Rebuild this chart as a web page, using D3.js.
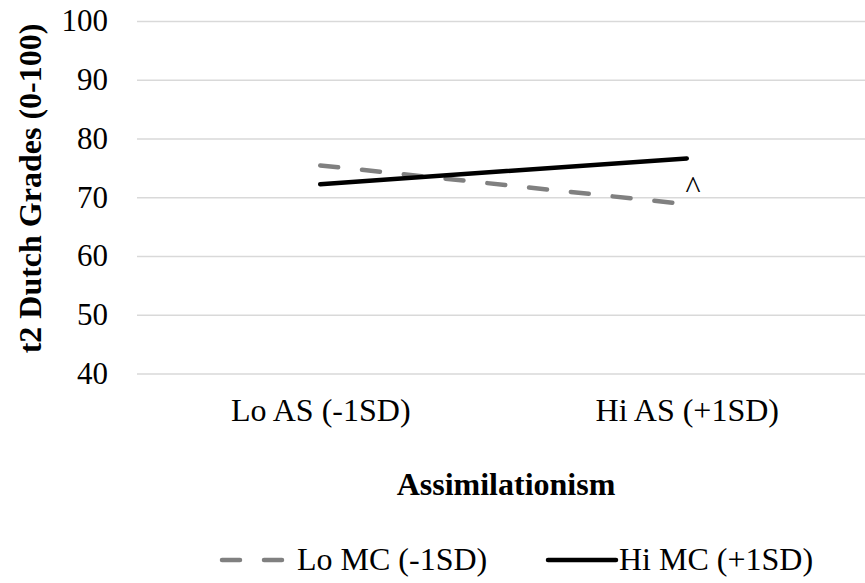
<!DOCTYPE html>
<html><head><meta charset="utf-8">
<script src="https://cdn.jsdelivr.net/npm/d3@7"></script>
<style>body{margin:0;background:#fff}svg{display:block}</style>
</head><body><svg id="c" width="865" height="583"></svg>
<script>
const categories = ["Lo AS (-1SD)", "Hi AS (+1SD)"];
const seriesNames = ["Lo MC (-1SD)", "Hi MC (+1SD)"];
const loMC = [75.5, 68.9];
const hiMC = [72.3, 76.7];
const yTicks = [40, 50, 60, 70, 80, 90, 100];
const yTitle = "t2 Dutch Grades (0-100)";
const xTitle = "Assimilationism";
const note = "^";

(function () {
const svg = d3.select("#c");
const FF = '"Liberation Serif"';
const pl = 137, pr = 870, pt = 21.5, pb = 374;
const x = d3.scalePoint().domain(categories).range([pl, pr]).padding(0.5);
const y = d3.scaleLinear().domain([40, 100]).range([pb, pt]);

// gridlines
svg.append("g").selectAll("line").data(yTicks).join("line")
  .attr("x1", pl).attr("x2", 865).attr("y1", d => y(d)).attr("y2", d => y(d))
  .attr("stroke", "#d9d9d9").attr("stroke-width", 1.5);

// y axis labels
const yAxis = d3.axisLeft(y).tickValues(yTicks).tickSize(0).tickPadding(0);
const ga = svg.append("g").attr("transform", `translate(108,0)`).call(yAxis);
ga.select(".domain").remove();
ga.selectAll("text").style("font-family", FF).style("font-size", "31px").style("fill", "#000").attr("dy", "0.3em");

// x axis labels
const xAxis = d3.axisBottom(x).tickSize(0).tickPadding(0);
const gx = svg.append("g").attr("transform", `translate(0,398)`).call(xAxis);
gx.select(".domain").remove();
gx.selectAll("text").style("font-family", FF).style("font-size", "32px").style("fill", "#000").attr("dy", "0.71em");

// titles
svg.append("text").attr("transform", `translate(41,188.5) rotate(-90)`)
  .attr("text-anchor", "middle").style("font-family", FF).style("font-size", "32px")
  .style("font-weight", "bold").text(yTitle);
svg.append("text").attr("x", 506).attr("y", 495)
  .attr("text-anchor", "middle").style("font-family", FF).style("font-size", "32px")
  .style("font-weight", "bold").text(xTitle);

const line = d3.line().x((d, i) => x(categories[i])).y(d => y(d));
svg.append("path").datum(loMC).attr("d", line).attr("fill", "none")
  .attr("stroke", "#808080").attr("stroke-width", 4.5).attr("stroke-linecap", "round")
  .attr("stroke-dasharray", "18,24");
svg.append("path").datum(hiMC).attr("d", line).attr("fill", "none")
  .attr("stroke", "#000").attr("stroke-width", 4.5).attr("stroke-linecap", "round");

svg.append("text").attr("x", 693).attr("y", 198).attr("text-anchor", "middle")
  .style("font-family", FF).style("font-size", "32px").text(note);

// legend
const lg = svg.append("g");
lg.append("line").attr("x1", 222).attr("x2", 285).attr("y1", 560).attr("y2", 560)
  .attr("stroke", "#808080").attr("stroke-width", 4.5).attr("stroke-linecap", "round")
  .attr("stroke-dasharray", "18,24");
lg.append("text").attr("x", 297).attr("y", 570).style("font-family", FF).style("font-size", "32px").text(seriesNames[0]);
lg.append("line").attr("x1", 548).attr("x2", 616).attr("y1", 560).attr("y2", 560)
  .attr("stroke", "#000").attr("stroke-width", 4.5).attr("stroke-linecap", "round");
lg.append("text").attr("x", 619).attr("y", 570).style("font-family", FF).style("font-size", "32px").text(seriesNames[1]);
})();
</script></body></html>
